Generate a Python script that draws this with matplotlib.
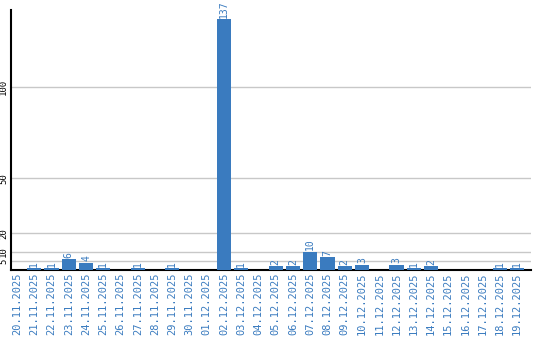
import matplotlib
matplotlib.use("Agg")
import matplotlib.pyplot as plt
import numpy as np

dates = ['20.11.2025', '21.11.2025', '22.11.2025', '23.11.2025', '24.11.2025',
         '25.11.2025', '26.11.2025', '27.11.2025', '28.11.2025', '29.11.2025',
         '30.11.2025', '01.12.2025', '02.12.2025', '03.12.2025', '04.12.2025',
         '05.12.2025', '06.12.2025', '07.12.2025', '08.12.2025', '09.12.2025',
         '10.12.2025', '11.12.2025', '12.12.2025', '13.12.2025', '14.12.2025',
         '15.12.2025', '16.12.2025', '17.12.2025', '18.12.2025', '19.12.2025']
counts = [0, 1, 1, 6, 4, 1, 0, 1, 0, 1, 0, 0, 137, 1, 0,
          2, 2, 10, 7, 2, 3, 0, 3, 1, 2, 0, 0, 0, 1, 1]
yticks = [5, 10, 20, 50, 100]

blue = '#3a7bbf'
font = 'DejaVu Sans Mono'

W, H = 540, 340
fig = plt.figure(figsize=(W / 100, H / 100), dpi=100)
ax = fig.add_axes([11 / W, (H - 270) / H, (531 - 11) / W, (270 - 10) / H])

x = np.arange(len(dates))
ax.bar(x, counts, width=0.82, color=blue, zorder=3)

for xi, c in zip(x, counts):
    if c > 0:
        ax.text(xi, c + 0.8, str(c), rotation=90, ha='center', va='bottom',
                color=blue, fontsize=7, family=font, zorder=4)

ax.set_xlim(-0.35, len(dates) - 0.2)
ax.set_ylim(0, 142)
ax.set_yticks(yticks)
ax.set_yticklabels([str(v) for v in yticks], rotation=90, va='center',
                   fontsize=6.5, family=font)
ax.set_xticks(x)
ax.set_xticklabels(dates, rotation=90, color=blue, fontsize=7.5, family=font)
ax.tick_params(axis='both', length=0, pad=2)
ax.yaxis.grid(True, color='#c8c8c8', linewidth=1, zorder=0)

for side in ['top', 'right']:
    ax.spines[side].set_visible(False)
ax.spines['left'].set_linewidth(1.5)
ax.spines['bottom'].set_linewidth(1.5)

fig.savefig('out.png', dpi=100)
